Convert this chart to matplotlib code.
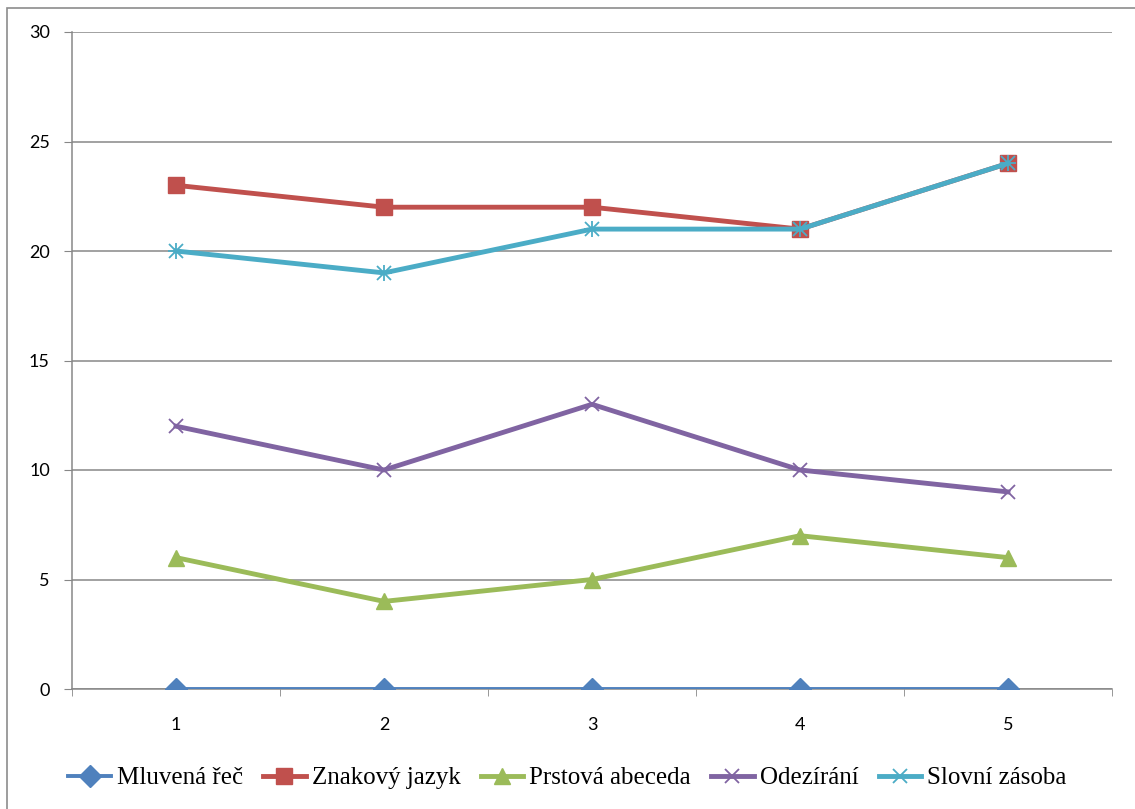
import numpy as np
import matplotlib.pyplot as plt
from matplotlib.patches import Rectangle

plt.rcParams['font.family'] = ['Lato', 'DejaVu Sans']
plt.rcParams['font.serif'] = ['Liberation Serif', 'DejaVu Serif']

# %% data
kategorie = [1, 2, 3, 4, 5]
mluvena_rec = [0, 0, 0, 0, 0]
znakovy_jazyk = [23, 22, 22, 21, 24]
prstova_abeceda = [6, 4, 5, 7, 6]
odezirani = [12, 10, 13, 10, 9]
slovni_zasoba = [20, 19, 21, 21, 24]
nazvy = ["Mluvená řeč", "Znakový jazyk", "Prstová abeceda", "Odezírání", "Slovní zásoba"]

W, H = 1135, 809
fig = plt.figure(figsize=(W/100, H/100), dpi=100)
fig.patches.append(Rectangle((7/W, -0.1), 1.2, 1 - 8/H + 0.1, transform=fig.transFigure,
                             fill=False, edgecolor="#8c8c8c", linewidth=1.2))
ax = fig.add_axes([72/W, (H-689)/H, (1112-72)/W, (689-32)/H])

styl = [
    (mluvena_rec, "#4F81BD", "D", 11, 2.8),
    (znakovy_jazyk, "#C0504D", "s", 11, 3.5),
    (prstova_abeceda, "#9BBB59", "^", 12, 3.5),
    (odezirani, "#8064A2", "x", 10, 3.5),
    (slovni_zasoba, "#4BACC6", "*", 0, 3.5),
]
for (vals, col, m, ms, lw), name in zip(styl, nazvy):
    if m == "*":
        ax.plot(kategorie, vals, color=col, lw=lw, marker="x", ms=10, mew=1.3,
                label=name, zorder=3)
        ax.plot(kategorie, vals, color=col, lw=0, marker="+", ms=12, mew=1.3, zorder=3)
    elif m == "x":
        ax.plot(kategorie, vals, color=col, lw=lw, marker=m, ms=ms, mew=1.3, label=name, zorder=3)
    else:
        ax.plot(kategorie, vals, color=col, lw=lw, marker=m, ms=ms, mec=col, label=name, zorder=3)

ax.set_xlim(0.5, 5.5)
ax.set_ylim(0, 30)
ax.set_yticks(range(0, 31, 5))
ax.set_xticks(kategorie)
ax.set_xticks(np.arange(0.5, 5.6, 1), minor=True)
ax.grid(axis="y", color="#878787", lw=1.1)
ax.set_axisbelow(True)
for s in ["top", "right"]:
    ax.spines[s].set_visible(False)
for s in ["left", "bottom"]:
    ax.spines[s].set_color("#878787")
    ax.spines[s].set_linewidth(1.1)
ax.tick_params(axis="y", length=6, color="#878787", labelsize=13, pad=10)
ax.tick_params(axis="x", which="major", length=0, labelsize=13, pad=20)
ax.tick_params(axis="x", which="minor", length=5, color="#878787")

leg = fig.legend(loc="center", bbox_to_anchor=(0.5, (H-778)/H), ncol=5, frameon=False,
                 prop={"family": "serif", "size": 18},
                 handlelength=1.7, handletextpad=0.25, columnspacing=0.8)

fig.savefig("out.png", dpi=100)
